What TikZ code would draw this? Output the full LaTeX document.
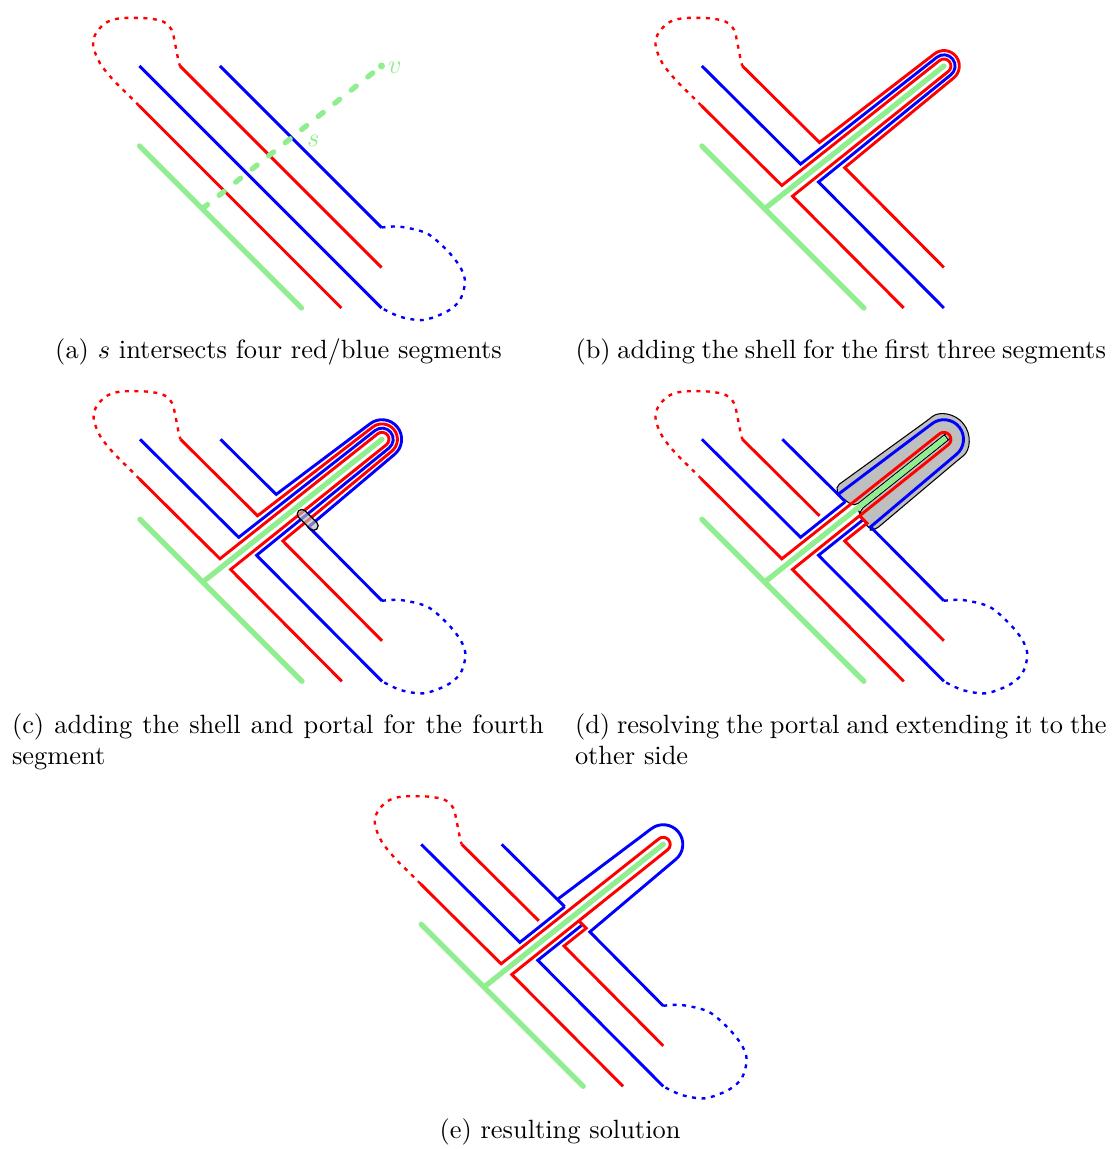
\documentclass[tikz,border=0pt]{standalone}
\usetikzlibrary{calc}
\definecolor{lgreen}{RGB}{144,238,144}
\newcommand\RedLoop{\draw[loopline,red] plot[smooth] coordinates{(139,105.7) (131.7,98.3) (113.3,80) (100,63.3) (93.3,46.7) (95,35) (105,23.3) (120,18.3) (146.7,18.3) (163.3,21.7) (171.7,30) (175,43.3) (178.3,60) (180,66)};}
\newcommand\BlueLoop{\draw[loopline,blue] plot[smooth] coordinates{(381.5,227.5) (400,226.7) (426.7,233.3) (446.7,250) (460,266.7) (465,281.7) (460,300) (446.7,311.7) (423.3,320) (400,316.7) (381.5,308)};}
\newcommand\GreenBase{\draw[grline] (139.5,146) -- (301.5,308);}
\newcommand\GreenS{\draw[grline] (202.6,208.5) -- (381.5,66);}
\newcommand\ShellRone{\draw[redline] (139,105.7) -- (219.42,185.51) -- (377.14,60.53) arc[start angle=-128.54,end angle=51.46,radius=7] -- (230.08,196.2) -- (341.3,308);}
\newcommand\ShellBone{\draw[blueline] (139.5,66) -- (238.17,164.06) -- (374.52,57.24) arc[start angle=-128.54,end angle=51.46,radius=11.2] -- (256.09,181.99) -- (381.5,308);}
\newcommand\ShellRtwo{\draw[redline] (180,66) -- (257.07,142.48) -- (371.91,53.96) arc[start angle=-128.54,end angle=51.46,radius=15.4] -- (282.27,167.66) -- (381.5,267.5);}
\newcommand\ShellBtwo{\draw[blueline] (220,66) -- (275.71,121.11) -- (369.29,50.67) arc[start angle=-128.54,end angle=51.46,radius=19.6] -- (308.15,153.55) -- (381.5,227.5);}
\newcommand\SolLines{%
 \draw[blueline] (139.5,66) -- (238.17,164.06) -- (282.97,128.37);
 \draw[blueline] (220,66) -- (282.97,128.37);
 \draw[blueline] (275.71,121.11) -- (369.29,50.67) arc[start angle=-128.54,end angle=51.46,radius=19.6] -- (308.15,153.55) -- (381.5,227.5);
 \draw[blueline] (381.5,308) -- (256.09,181.99) -- (300.9,146.29);
 \draw[redline] (180,66) -- (257.07,142.48);
 \draw[redline] (139,105.7) -- (219.42,185.51) -- (377.14,60.53) arc[start angle=-128.54,end angle=51.46,radius=7] -- (230.08,196.2) -- (341.3,308);
 \draw[redline] (297.26,142.67) -- (304.52,149.93) -- (282.27,167.66) -- (381.5,267.5);
}
\begin{document}
\begin{tikzpicture}[x=0.3788pt,y=-0.3788pt,
  redline/.style={draw=red,line width=1.1pt},
  blueline/.style={draw=blue,line width=1.1pt},
  grline/.style={draw=lgreen,line width=2pt,line cap=round},
  grdash/.style={draw=lgreen,line width=2pt,line cap=round,dash pattern=on 2.4pt off 5.6pt},
  loopline/.style={line width=0.9pt,dash pattern=on 1.5pt off 2.1pt},
  capt/.style={inner sep=0pt,outer sep=0pt}]
\useasboundingbox (0,0) rectangle (1113,1149);

% ---------- (a) ----------
\begin{scope}
 \RedLoop \BlueLoop \GreenBase
 \draw[redline] (139,105.7) -- (341.3,308);
 \draw[blueline] (139.5,66) -- (381.5,308);
 \draw[redline] (180,66) -- (381.5,267.5);
 \draw[blueline] (220,66) -- (381.5,227.5);
 \draw[grdash] (202.6,208.5) -- (381.5,66);
 \fill[lgreen] (381.5,66) circle (3.5);
 \node[capt,text=lgreen] (lv) at (394.7,67.5) {$v$};
 \node[capt,text=lgreen] (ls) at (313.3,140.8) {$s$};
\end{scope}
\node[capt,anchor=base] (capa) at (278.5,359) {(a) $s$ intersects four red/blue segments};

% ---------- (b) ----------
\begin{scope}[shift={(562.4,0)}]
 \RedLoop \GreenBase \GreenS
 \ShellRone \ShellBone \ShellRtwo
\end{scope}
\node[capt,anchor=base west] (capb) at (575.5,359) {\makebox[200.9pt][s]{(b) adding the shell for the first three segments}};

% ---------- (c) ----------
\begin{scope}[shift={(0.5,373.3)}]
 \RedLoop \BlueLoop \GreenBase \GreenS
 \ShellRone \ShellBone \ShellRtwo \ShellBtwo
 \filldraw[fill=gray!50,fill opacity=0.65,draw=black,line width=0.45pt]
   (304.57,137.47) -- (316.32,149.2) arc[start angle=-45,end angle=135,radius=4.6]
   -- (298.07,143.97) arc[start angle=135,end angle=315,radius=4.6] -- cycle;
\end{scope}
\node[capt,anchor=base west] (capc1) at (12,733.5) {\makebox[201.4pt][s]{(c) adding the shell and portal for the fourth}};
\node[capt,anchor=base west] (capc2) at (12,764.5) {segment};

% ---------- (d) ----------
\begin{scope}[shift={(562.4,373.3)}]
 \RedLoop \BlueLoop
 \filldraw[fill=gray!50,draw=black,line width=0.4pt,rounded corners=2]
   (272.6,114) -- (365.9,46.45) arc[start angle=-128.54,end angle=51.46,radius=25]
   -- (312.6,156.7) -- (307.6,156.7) -- (297.6,141.7) -- (296.43,137.83)
   -- (383.49,68.5) arc[start angle=51.46,end angle=-128.54,radius=3.2]
   -- (291.88,133.28) -- (277.6,123.3) -- cycle;
 \GreenBase \GreenS
 \SolLines
\end{scope}
\node[capt,anchor=base west] (capd1) at (575,733.5) {\makebox[201.4pt][s]{(d) resolving the portal and extending it to the}};
\node[capt,anchor=base west] (capd2) at (575,764.5) {other side};

% ---------- (e) ----------
\begin{scope}[shift={(281.7,778.3)}]
 \RedLoop \BlueLoop \GreenBase \GreenS
 \SolLines
\end{scope}
\node[capt,anchor=base] (cape) at (560,1138) {(e) resulting solution};
\end{tikzpicture}
\end{document}
